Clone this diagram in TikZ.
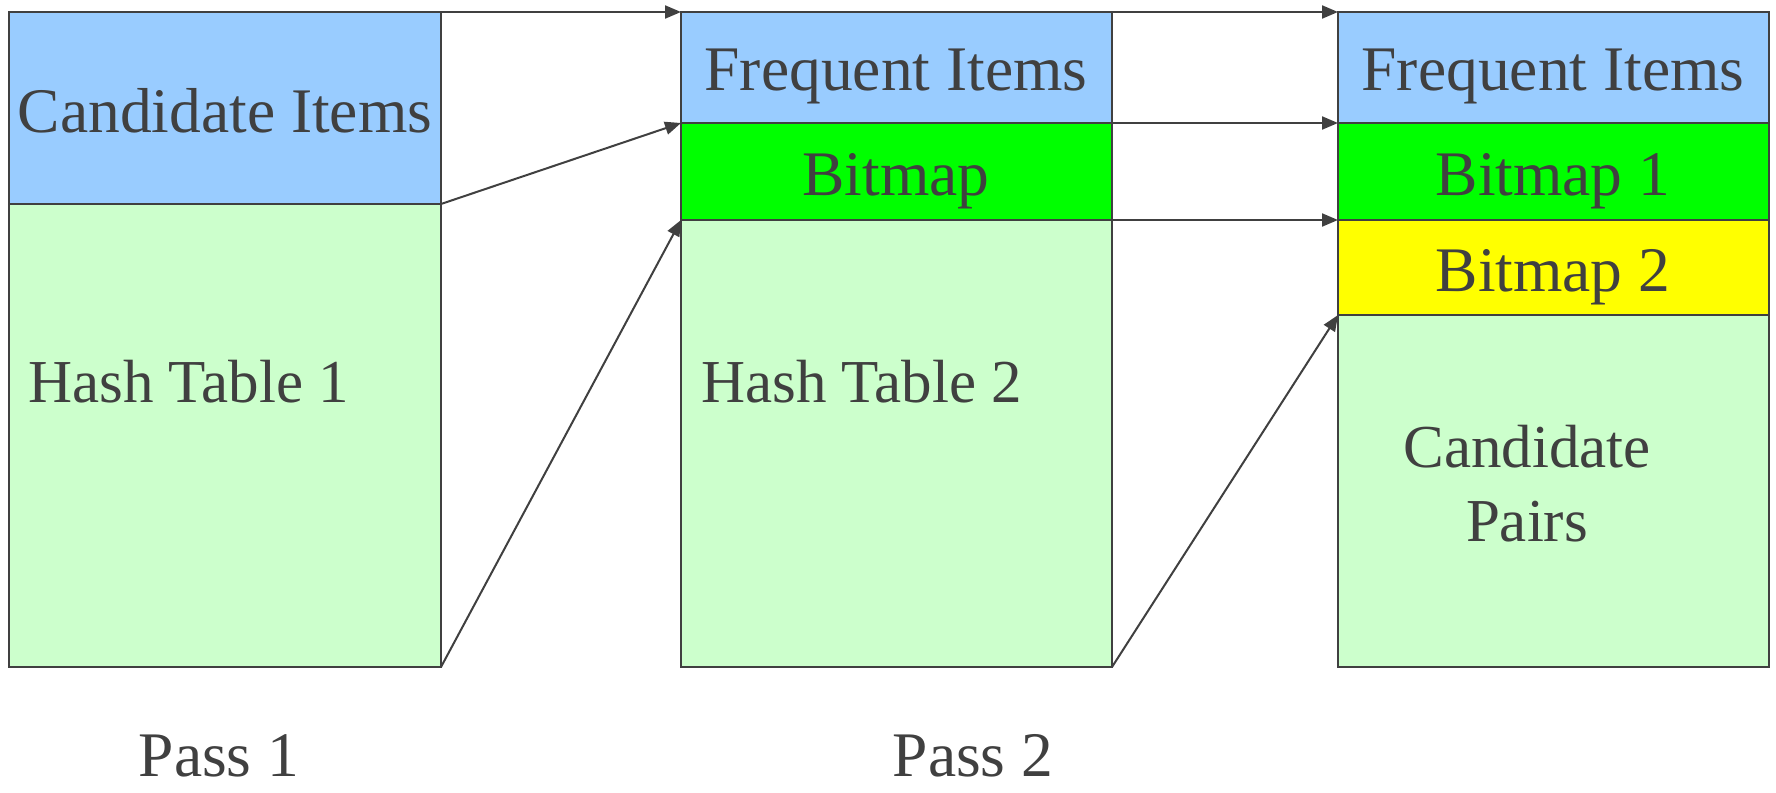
\documentclass[tikz,border=0pt]{standalone}
\usepackage{fontspec}
\setmainfont{Liberation Serif}
\usetikzlibrary{arrows.meta}
\definecolor{ink}{HTML}{404040}
\definecolor{itemblue}{HTML}{99CCFF}
\definecolor{bitgreen}{HTML}{00FF00}
\definecolor{bityellow}{HTML}{FFFF00}
\definecolor{tablegreen}{HTML}{CCFFCC}
\begin{document}
\begin{tikzpicture}[x=1pt,y=-1pt,
  cell/.style={draw=ink, line width=2pt, inner sep=0pt, outer sep=0pt,
    anchor=north west, minimum width=431pt},
  lbl/.style={text=ink, inner sep=0pt, anchor=base,
    font=\fontsize{63.5}{74}\selectfont},
  small/.style={font=\fontsize{61}{74}\selectfont},
  link/.style={draw=ink, line width=2pt, -{Triangle[length=16pt,width=13pt]}}]
\useasboundingbox (0,0) rectangle (1776,792);

% Pass 1 memory layout
\node[cell, fill=itemblue, minimum width=432pt, minimum height=192pt] (cand) at (9,12) {};
\node[cell, fill=tablegreen, minimum width=432pt, minimum height=463pt] (hash1) at (9,204) {};

% Pass 2 memory layout
\node[cell, fill=itemblue, minimum height=111pt] (freq2) at (681,12) {};
\node[cell, fill=bitgreen, minimum height=97pt] (bitmap) at (681,123) {};
\node[cell, fill=tablegreen, minimum height=447pt] (hash2) at (681,220) {};

% Third layout
\node[cell, fill=itemblue, minimum height=111pt] (freq3) at (1338,12) {};
\node[cell, fill=bitgreen, minimum height=97pt] (bitA) at (1338,123) {};
\node[cell, fill=bityellow, minimum height=95pt] (bitB) at (1338,220) {};
\node[cell, fill=tablegreen, minimum height=352pt] (pairs) at (1338,315) {};

% Labels
\node[lbl] (tcand) at (225,132) {Candidate Items};
\node[lbl, small, anchor=base west] (thash1) at (28,402) {Hash Table 1};
\node[lbl] (tfreq2) at (896,90) {Frequent Items};
\node[lbl] (tbitmap) at (896,195) {Bitmap};
\node[lbl, small, anchor=base west] (thash2) at (701,402) {Hash Table 2};
\node[lbl] (tfreq3) at (1553,90) {Frequent Items};
\node[lbl] (tbitA) at (1553,195) {Bitmap 1};
\node[lbl] (tbitB) at (1553,291) {Bitmap 2};
\node[lbl, small, align=center] (tpairs) at (1527,541) {Candidate\\Pairs};
\node[lbl] (pass1) at (219,776) {Pass 1};
\node[lbl] (pass2) at (973,776) {Pass 2};

% Connectors between layouts
\draw[link] (cand.north east) -- (freq2.north west);
\draw[link] (cand.south east) -- (bitmap.north west);
\draw[link] (hash1.south east) -- (hash2.north west);
\draw[link] (freq2.north east) -- (freq3.north west);
\draw[link] (bitmap.north east) -- (bitA.north west);
\draw[link] (hash2.north east) -- (bitB.north west);
\draw[link] (hash2.south east) -- (pairs.north west);
\end{tikzpicture}
\end{document}
